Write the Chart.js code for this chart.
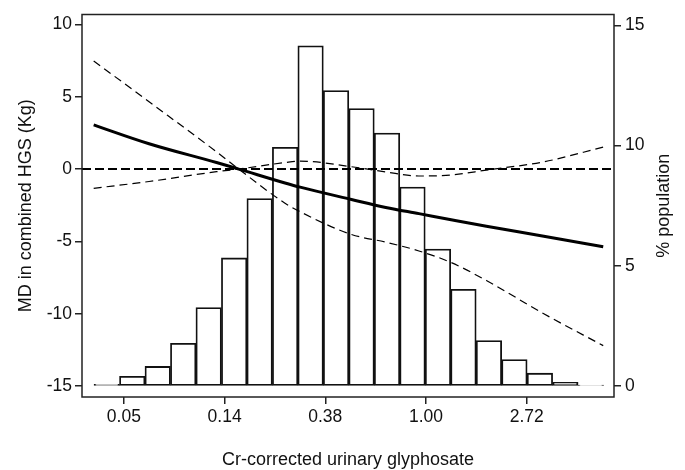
<!DOCTYPE html>
<html>
<head>
<meta charset="utf-8">
<script src="https://cdn.jsdelivr.net/npm/chart.js@4.4.0/dist/chart.umd.min.js"></script>
<style>
  body { margin: 0; background: #fff; }
  #wrap { width: 685px; height: 470px; }
</style>
</head>
<body>
<div id="wrap"><canvas id="chart" width="685" height="470"></canvas></div>
<script>
// x is ln(glyphosate); ticks are shown as the back-transformed values
const xTickValues = [-3, -2, -1, 0, 1];
const xTickLabels = ["0.05", "0.14", "0.38", "1.00", "2.72"];

// histogram of % population per bin (right axis)
const binCenters = [-3.170, -2.917, -2.664, -2.411, -2.158, -1.905, -1.652, -1.399, -1.146, -0.893,
                    -0.640, -0.387, -0.134, 0.119, 0.372, 0.625, 0.878, 1.131, 1.384, 1.637];
const popPct = [0.08, 0.41, 0.82, 1.78, 3.27, 5.33, 7.8, 9.93, 14.15, 12.29,
                11.54, 10.52, 8.28, 5.70, 4.03, 1.90, 1.11, 0.54, 0.16, 0.05];

// spline estimate of MD and its two confidence bounds (left axis)
const curveX = [-3.30, -2.75, -2.08, -1.86, -1.40, -1.25, -0.74, -0.40, -0.07, 0.25, 0.60, 1.17, 1.76];
const mdEst  = [3.05, 1.75, 0.45, 0, -0.96, -1.25, -2.1, -2.65, -3.08, -3.5, -3.95, -4.64, -5.37];
const ciA    = [7.47, 4.65, 1.19, 0, -2.36, -2.95, -4.52, -5.05, -5.66, -6.46, -7.7, -10.0, -12.2];
const ciB    = [-1.33, -0.86, -0.18, 0, 0.45, 0.55, 0.16, -0.2, -0.48, -0.41, -0.07, 0.5, 1.52];

const refY = 0;

const xMin = -3.416, xMax = 1.867;
const leftMin = -15.75, leftMax = 10.68;
const rightMin = -0.45, rightMax = 15.45;

const FONT = "'Liberation Sans', Arial, sans-serif";
const INK = "#111";
const rightTitle = "% population";

const toPts = (xs, ys) => xs.map((x, i) => ({ x: x, y: ys[i] }));

const framePlugin = {
  id: "frame",
  afterDraw(chart) {
    const { ctx, chartArea: a, scales } = chart;
    ctx.save();
    ctx.strokeStyle = "#222";
    ctx.lineWidth = 1.5;
    ctx.strokeRect(a.left, a.top, a.right - a.left, a.bottom - a.top);
    // right title reads bottom-to-top like the left one
    ctx.translate(scales.y1.right - 21, (a.top + a.bottom) / 2);
    ctx.rotate(-Math.PI / 2);
    ctx.font = "18px " + FONT;
    ctx.fillStyle = INK;
    ctx.textAlign = "center";
    ctx.textBaseline = "middle";
    ctx.fillText(rightTitle, 0, 0);
    ctx.restore();
  }
};

const tickGrid = { display: true, drawOnChartArea: false, drawTicks: true, tickLength: 7, color: "#222", lineWidth: 1.5 };

new Chart(document.getElementById("chart"), {
  type: "bar",
  data: {
    datasets: [
      {
        type: "line",
        data: toPts(curveX, mdEst),
        yAxisID: "y",
        borderColor: "#000",
        borderWidth: 3,
        pointRadius: 0,
        cubicInterpolationMode: "monotone",
        fill: false,
        order: 1
      },
      {
        type: "line",
        data: toPts(curveX, ciA),
        yAxisID: "y",
        borderColor: "#000",
        borderWidth: 1.2,
        borderDash: [8, 5],
        pointRadius: 0,
        cubicInterpolationMode: "monotone",
        fill: false,
        order: 2
      },
      {
        type: "line",
        data: toPts(curveX, ciB),
        yAxisID: "y",
        borderColor: "#000",
        borderWidth: 1.2,
        borderDash: [8, 5],
        pointRadius: 0,
        cubicInterpolationMode: "monotone",
        fill: false,
        order: 3
      },
      {
        type: "line",
        data: [{ x: xMin, y: refY }, { x: xMax, y: refY }],
        yAxisID: "y",
        borderColor: "#000",
        borderWidth: 2,
        borderDash: [9, 4],
        pointRadius: 0,
        fill: false,
        order: 4
      },
      {
        type: "bar",
        data: toPts(binCenters, popPct),
        yAxisID: "y1",
        backgroundColor: "#fff",
        borderColor: "#111",
        borderWidth: 1.8,
        borderSkipped: false,
        barPercentage: 1,
        categoryPercentage: 1,
        grouped: false,
        order: 10
      }
    ]
  },
  options: {
    responsive: false,
    animation: false,
    layout: { padding: { top: 11, left: 0, right: 0, bottom: 0 } },
    plugins: {
      legend: { display: false },
      tooltip: { enabled: false }
    },
    scales: {
      x: {
        type: "linear",
        min: xMin,
        max: xMax,
        offset: false,
        grid: Object.assign({ offset: false }, tickGrid),
        border: { display: false },
        afterBuildTicks: s => { s.ticks = xTickValues.map(v => ({ value: v })); },
        afterFit: s => { s.height = 73; },
        ticks: {
          autoSkip: false,
          maxRotation: 0,
          padding: 3,
          color: INK,
          font: { family: FONT, size: 17.5 },
          callback: v => {
            const i = xTickValues.indexOf(v);
            return i >= 0 ? xTickLabels[i] : "";
          }
        },
        title: {
          display: true,
          text: "Cr-corrected urinary glyphosate",
          color: INK,
          font: { family: FONT, size: 18 },
          padding: { top: 0, bottom: -1 }
        }
      },
      y: {
        position: "left",
        min: leftMin,
        max: leftMax,
        grid: tickGrid,
        border: { display: false },
        afterFit: s => { s.width = 82; },
        ticks: {
          stepSize: 5,
          includeBounds: false,
          padding: 3,
          color: INK,
          font: { family: FONT, size: 17.5 }
        },
        title: {
          display: true,
          text: "MD in combined HGS (Kg)",
          color: INK,
          font: { family: FONT, size: 18 },
          padding: { top: 15, bottom: 0 }
        }
      },
      y1: {
        position: "right",
        min: rightMin,
        max: rightMax,
        grid: tickGrid,
        border: { display: false },
        afterFit: s => { s.width = 71; },
        ticks: {
          stepSize: 5,
          includeBounds: false,
          padding: 4,
          color: INK,
          font: { family: FONT, size: 17.5 }
        }
      }
    }
  },
  plugins: [framePlugin]
});
</script>
</body>
</html>
